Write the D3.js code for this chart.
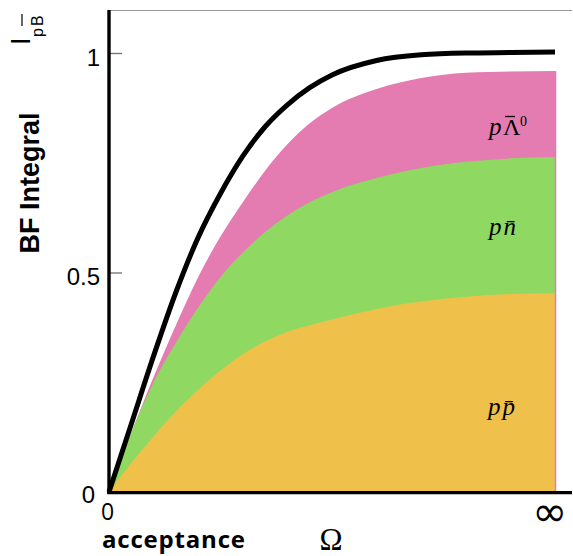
<!DOCTYPE html>
<html>
<head>
<meta charset="utf-8">
<script src="https://cdn.jsdelivr.net/npm/d3@7.9.0/dist/d3.min.js"></script>
<style>
  body { margin: 0; background: #fff; }
  svg { display: block; }
</style>
</head>
<body>
<svg id="chart" width="573" height="556"></svg>
<script>
// acceptance fraction (0 = none, 1 = full / "infinity")
const omega = [0, 0.05, 0.1, 0.15, 0.2, 0.25, 0.3, 0.35, 0.4, 0.45, 0.5, 0.6, 0.7, 0.8, 0.9, 1.0];

// total integral (black curve)
const total = [0, 0.155, 0.31, 0.455, 0.58, 0.68, 0.765, 0.832, 0.882, 0.921, 0.95, 0.983, 0.996, 1.0, 1.001, 1.002];
// stacked tops of each channel
const topLambda = [0, 0.135, 0.262, 0.38, 0.49, 0.582, 0.66, 0.732, 0.792, 0.84, 0.875, 0.918, 0.943, 0.955, 0.958, 0.959];
const topNeutron = [0, 0.135, 0.25, 0.34, 0.42, 0.49, 0.545, 0.592, 0.63, 0.66, 0.683, 0.715, 0.738, 0.752, 0.76, 0.763];
const topProton = [0, 0.066, 0.127, 0.184, 0.233, 0.277, 0.314, 0.343, 0.365, 0.38, 0.393, 0.417, 0.434, 0.445, 0.451, 0.453];

const channels = ['pLambda', 'pn', 'pp'];
const channelColors = ['#e47cb2', '#8fd963', '#efc14b'];
const yTicks = [0, 0.5, 1];
const xTicks = [0, 1];
const xTickLabels = ['0', '\u221E'];

const svg = d3.select('#chart');
const x = d3.scaleLinear().domain([0, 1]).range([109, 555]);
const y = d3.scaleLinear().domain([0, 1]).range([492, 53]);

const tops = [topLambda, topNeutron, topProton];
tops.forEach((arr, i) => {
  const pts = omega.map((o, j) => [o, arr[j]]);
  const area = d3.area()
    .x(d => x(d[0]))
    .y0(y(0))
    .y1(d => y(d[1]))
    .curve(d3.curveMonotoneX);
  svg.append('path')
    .attr('class', channels[i])
    .attr('d', area(pts))
    .attr('fill', channelColors[i]);
});

// thin pink edge at the right side
svg.append('line')
  .attr('x1', x(1) + 0.5).attr('x2', x(1) + 0.5)
  .attr('y1', y(topLambda[topLambda.length - 1]))
  .attr('y2', y(0))
  .attr('stroke', '#e47cb2').attr('stroke-width', 1.5);

const line = d3.line()
  .x((d, j) => x(omega[j]))
  .y(d => y(d))
  .curve(d3.curveMonotoneX);
svg.append('path')
  .attr('d', line(total))
  .attr('fill', 'none')
  .attr('stroke', '#000')
  .attr('stroke-width', 5);

// frame: grey top line, heavy left and bottom axes
svg.append('line')
  .attr('x1', 109).attr('x2', 572).attr('y1', 10.5).attr('y2', 10.5)
  .attr('stroke', '#999').attr('stroke-width', 1.2);

const yAxis = d3.axisLeft(y).tickValues(yTicks).tickSize(-13).tickPadding(9)
  .tickFormat(d3.format('~g'));
const gy = svg.append('g').attr('transform', 'translate(109,0)').call(yAxis);
gy.select('.domain').remove();
gy.selectAll('.tick line').attr('stroke', '#777').attr('stroke-width', 1.4);
gy.selectAll('.tick text')
  .attr('font-family', 'Liberation Sans, Arial, sans-serif')
  .attr('font-size', 24)
  .attr('fill', '#000')
  .attr('dy', d => d === 0 ? '0.42em' : '0.5em')
  .attr('x', d => d === 0 ? -14 : -9);

const xAxis = d3.axisBottom(x).tickValues(xTicks).tickSize(0)
  .tickFormat((d, i) => xTickLabels[i]);
const gx = svg.append('g').attr('transform', 'translate(0,492)').call(xAxis);
gx.select('.domain').remove();
gx.selectAll('.tick text')
  .attr('fill', '#000')
  .attr('font-family', d => d === 0 ? 'Open Sans, sans-serif' : 'DejaVu Sans, sans-serif')
  .attr('font-size', d => d === 0 ? 23 : 42)
  .attr('x', d => d === 0 ? -2 : -6)
  .attr('y', d => d === 0 ? 28 : 34)
  .attr('dy', 0);

svg.append('line')
  .attr('x1', 109).attr('x2', 109).attr('y1', 10).attr('y2', 494)
  .attr('stroke', '#000').attr('stroke-width', 3.4);
svg.append('line')
  .attr('x1', 107.3).attr('x2', 572).attr('y1', 492.6).attr('y2', 492.6)
  .attr('stroke', '#000').attr('stroke-width', 3.4);

// axis titles
svg.append('text')
  .attr('transform', 'translate(39,183) rotate(-90)')
  .attr('text-anchor', 'middle')
  .attr('font-family', 'Liberation Sans, Arial, sans-serif')
  .attr('font-weight', 'bold')
  .attr('font-size', 27)
  .text('BF Integral');

const iLab = svg.append('g').attr('transform', 'translate(30,45) rotate(-90)')
  .attr('font-family', 'Liberation Sans, Arial, sans-serif');
iLab.append('text').attr('x', 0).attr('y', 0).attr('font-size', 27).text('I');
iLab.append('text').attr('x', 8).attr('y', 13).attr('font-size', 16).text('p');
iLab.append('text').attr('x', 19).attr('y', 13).attr('font-size', 16).text('B');
iLab.append('line').attr('x1', 19).attr('x2', 31).attr('y1', -8).attr('y2', -8)
  .attr('stroke', '#000').attr('stroke-width', 1.2);

svg.append('text')
  .attr('x', 102).attr('y', 548)
  .attr('font-family', 'Open Sans, sans-serif')
  .attr('font-weight', 'bold')
  .attr('font-size', 24)
  .attr('letter-spacing', 0.8)
  .text('acceptance');

svg.append('text')
  .attr('x', 331).attr('y', 550)
  .attr('text-anchor', 'middle')
  .attr('font-family', 'Liberation Serif, serif')
  .attr('font-size', 31)
  .text('\u03A9');

// channel labels
const labelFont = 'Liberation Serif, DejaVu Serif, serif';
svg.append('text').attr('x', 489).attr('y', 135)
  .attr('font-family', labelFont).attr('font-style', 'italic').attr('font-size', 25)
  .text('p');
svg.append('text').attr('x', 503).attr('y', 135)
  .attr('font-family', labelFont).attr('font-size', 24)
  .text('\u039B');
svg.append('line').attr('x1', 505).attr('x2', 515).attr('y1', 116.5).attr('y2', 116.5)
  .attr('stroke', '#000').attr('stroke-width', 1.3);
svg.append('text').attr('x', 520).attr('y', 126)
  .attr('font-family', labelFont).attr('font-size', 14)
  .text('0');

svg.append('text').attr('x', 489).attr('y', 235)
  .attr('font-family', labelFont).attr('font-style', 'italic').attr('font-size', 25)
  .attr('letter-spacing', 2)
  .text('pn\u0304');

svg.append('text').attr('x', 488).attr('y', 415)
  .attr('font-family', labelFont).attr('font-style', 'italic').attr('font-size', 25)
  .attr('letter-spacing', 2)
  .text('pp\u0304');
</script>
</body>
</html>
